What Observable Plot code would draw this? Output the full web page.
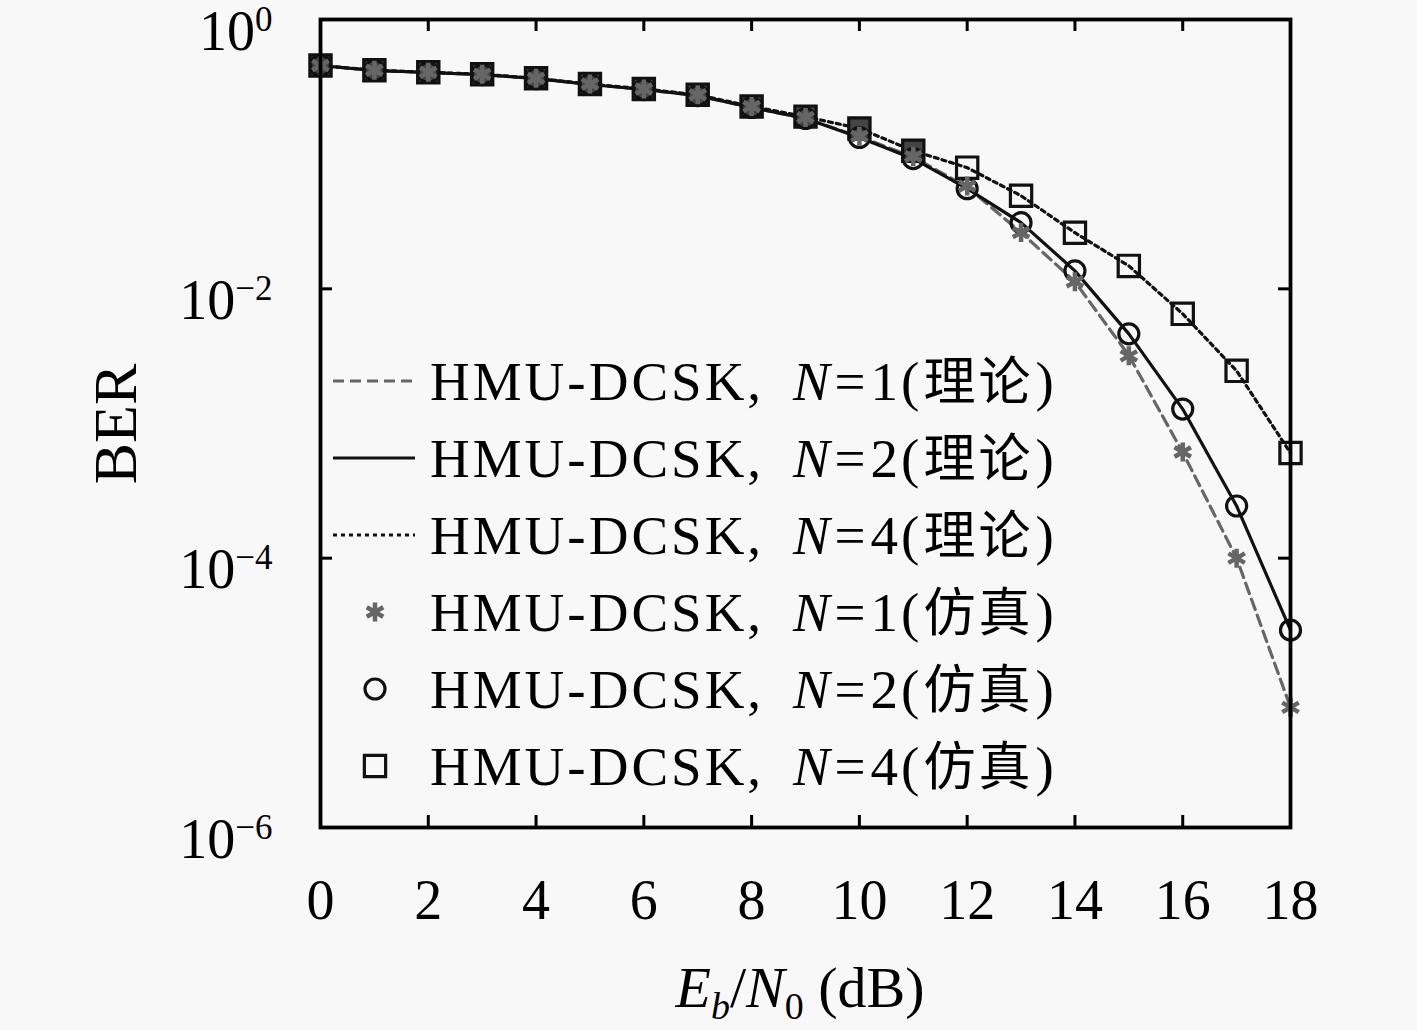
<!DOCTYPE html>
<html>
<head>
<meta charset="utf-8">
<script src="https://cdn.jsdelivr.net/npm/d3@7"></script>
<script src="https://cdn.jsdelivr.net/npm/@observablehq/plot@0.6"></script>
<style>
  html, body { margin: 0; padding: 0; background: #f8f8f8; }
  #chart { width: 1417px; height: 1030px; }
</style>
</head>
<body>
<div id="chart"></div>
<script>
// ---- data ----
const ebn0 = [0, 1, 2, 3, 4, 5, 6, 7, 8, 9, 10, 11, 12, 13, 14, 15, 16, 17, 18];
const berTheoryN1 = [0.455, 0.418, 0.404, 0.390, 0.364, 0.329, 0.302, 0.272, 0.222, 0.184, 0.135, 0.095, 0.057, 0.0262, 0.0113, 0.0032, 6.1e-4, 1.0e-4, 7.8e-6];
const berTheoryN2 = [0.455, 0.418, 0.404, 0.390, 0.364, 0.329, 0.302, 0.272, 0.222, 0.184, 0.133, 0.0926, 0.0554, 0.031, 0.0136, 0.00463, 0.00128, 2.44e-4, 2.92e-5];
const berTheoryN4 = [0.455, 0.420, 0.406, 0.392, 0.366, 0.332, 0.305, 0.276, 0.226, 0.190, 0.155, 0.106, 0.0794, 0.0491, 0.0261, 0.0148, 0.00652, 0.00246, 6.04e-4];
const berSimN1 = [0.455, 0.420, 0.406, 0.392, 0.366, 0.332, 0.305, 0.276, 0.226, 0.187, 0.136, 0.096, 0.058, 0.0262, 0.0113, 0.00318, 6.14e-4, 1.0e-4, 7.8e-6];
const berSimN2 = [0.455, 0.418, 0.404, 0.390, 0.364, 0.329, 0.302, 0.272, 0.222, 0.184, 0.133, 0.0926, 0.0554, 0.031, 0.0136, 0.00463, 0.00128, 2.44e-4, 2.92e-5];
const berSimN4 = [0.455, 0.420, 0.406, 0.392, 0.366, 0.332, 0.305, 0.276, 0.226, 0.190, 0.155, 0.106, 0.0794, 0.0491, 0.0261, 0.0148, 0.00652, 0.00246, 6.04e-4];

const xTicks = [0, 2, 4, 6, 8, 10, 12, 14, 16, 18];
const yTicks = [1, 1e-2, 1e-4, 1e-6];
const yTickExp = ["0", "\u22122", "\u22124", "\u22126"];
const legendName = "HMU-DCSK, ";
const legendN = ["1", "2", "4", "1", "2", "4"];
const legendKind = ["理论", "理论", "理论", "仿真", "仿真", "仿真"];
const xLabel = ["E", "b", "/", "N", "0", " (dB)"];
const yLabel = "BER";

// ---- tables ----
const rows = (ys) => ebn0.map((x, i) => ({x, y: ys[i]}));
const tN1 = rows(berTheoryN1), tN2 = rows(berTheoryN2), tN4 = rows(berTheoryN4);
const sN1 = rows(berSimN1), sN2 = rows(berSimN2), sN4 = rows(berSimN4);
const yTickRows = yTicks.map((v, i) => ({v, e: yTickExp[i]}));

// ---- layout ----
const W = 1417, H = 1030, mL = 320, mR = 127, mT = 19, mB = 203;
const fW = W - mL - mR, fH = H - mT - mB, tick = 12;
const serif = "'Liberation Serif', 'Noto Sans CJK SC', serif";

const gray = "#666";
const plot = Plot.plot({
  width: W, height: H,
  marginLeft: mL, marginRight: mR, marginTop: mT, marginBottom: mB,
  style: {background: "#f8f8f8", fontFamily: serif, color: "black", overflow: "visible"},
  x: {domain: [0, 18], axis: null},
  y: {type: "log", domain: [1e-6, 1], axis: null},
  marks: [
    // theory lines
    Plot.line(tN1, {x: "x", y: "y", stroke: gray, strokeWidth: 3.2, strokeDasharray: "11,6"}),
    Plot.line(tN2, {x: "x", y: "y", stroke: "#111", strokeWidth: 3.2}),
    Plot.line(tN4, {x: "x", y: "y", stroke: "#111", strokeWidth: 3.2, strokeDasharray: "4,4"}),
    // simulation markers
    Plot.dot(sN4, {x: "x", y: "y", symbol: "square", r: 12, stroke: "#111", strokeWidth: 3.2,
                   fill: d => d.x <= 11 ? "#444" : "none"}),
    Plot.dot(sN2, {x: "x", y: "y", symbol: "circle", r: 10, stroke: "#111", strokeWidth: 3.2, fill: "none"}),
    Plot.dot(sN1, {x: "x", y: "y", symbol: "asterisk", r: 9, stroke: gray, strokeWidth: 4.5}),
    // frame + inward ticks
    Plot.frame({stroke: "black", strokeWidth: 3.8}),
    Plot.tickX(xTicks, {x: d => d, insetTop: fH - tick, stroke: "black", strokeWidth: 3}),
    Plot.tickX(xTicks, {x: d => d, insetBottom: fH - tick, stroke: "black", strokeWidth: 3}),
    Plot.tickY(yTicks, {y: d => d, insetRight: fW - tick, stroke: "black", strokeWidth: 3}),
    Plot.tickY(yTicks, {y: d => d, insetLeft: fW - tick, stroke: "black", strokeWidth: 3}),
    // tick labels
    Plot.text(xTicks, {x: d => d, text: d => String(d), frameAnchor: "bottom", lineAnchor: "bottom",
                       dy: 91, fontSize: 56, fill: "black"}),
    Plot.text(yTickRows, {y: "v", text: d => "10|" + d.e, frameAnchor: "left", textAnchor: "end",
                          lineAnchor: "bottom", dx: -48, dy: 30, fontSize: 56, fill: "black"})
  ]
});

const svg = d3.select(plot);
// superscript exponents on y tick labels
svg.selectAll("text").filter(function() { return this.textContent.includes("|"); }).each(function() {
  const t = d3.select(this);
  const [base, exp] = t.text().split("|");
  t.text(null);
  t.append("tspan").text(base);
  t.append("tspan").attr("dy", -19).attr("font-size", 35).text(exp);
});

// axis titles
const xl = svg.append("text").attr("x", mL + fW / 2 - 5).attr("y", 1007)
  .attr("text-anchor", "middle").attr("font-size", 58).attr("font-family", serif).attr("fill", "black");
xl.append("tspan").attr("font-style", "italic").text(xLabel[0]);
xl.append("tspan").attr("font-style", "italic").attr("font-size", 38).attr("dy", 12).text(xLabel[1]);
xl.append("tspan").attr("dy", -12).text(xLabel[2]);
xl.append("tspan").attr("font-style", "italic").text(xLabel[3]);
xl.append("tspan").attr("font-size", 38).attr("dy", 12).text(xLabel[4]);
xl.append("tspan").attr("dy", -12).text(xLabel[5]);

svg.append("text").attr("transform", "translate(136,424) rotate(-90)")
  .attr("text-anchor", "middle").attr("font-size", 62).attr("font-family", serif).attr("fill", "black")
  .text(yLabel);

// legend (inside the plot, no box)
const lgX0 = 333, lgX1 = 415, lgMark = 375, lgText = 430, lgY0 = 381, lgDy = 77;
const lg = svg.append("g");
const lineStyles = [
  {stroke: gray, dash: "11,6"},
  {stroke: "#111", dash: null},
  {stroke: "#111", dash: "4,4"}
];
const markStyles = [
  {sym: d3.symbolAsterisk, r: 9, stroke: gray, sw: 4.5},
  {sym: d3.symbolCircle, r: 10, stroke: "#111", sw: 3.2},
  {sym: d3.symbolSquare, r: 12, stroke: "#111", sw: 3.2}
];
legendN.forEach((n, i) => {
  const cy = lgY0 + i * lgDy;
  if (i < 3) {
    const s = lineStyles[i];
    lg.append("line").attr("x1", lgX0).attr("x2", lgX1).attr("y1", cy).attr("y2", cy)
      .attr("stroke", s.stroke).attr("stroke-width", 3.2).attr("stroke-dasharray", s.dash);
  } else {
    const s = markStyles[i - 3];
    lg.append("path").attr("transform", `translate(${lgMark},${cy})`)
      .attr("d", d3.symbol(s.sym, s.r * s.r * Math.PI)())
      .attr("fill", "none").attr("stroke", s.stroke).attr("stroke-width", s.sw);
  }
  const t = lg.append("text").attr("x", lgText).attr("y", cy + 19).attr("text-anchor", "start")
    .attr("font-size", 55).attr("font-family", serif).attr("fill", "black");
  t.append("tspan").attr("letter-spacing", 3).text(legendName);
  t.append("tspan").attr("font-style", "italic").attr("dx", 12).text("N");
  t.append("tspan").attr("dx", 5).text("=");
  t.append("tspan").attr("dx", 5).text(n);
  t.append("tspan").attr("dx", 3).text("(");
  t.append("tspan").attr("font-family", "'Noto Sans CJK SC'").attr("font-size", 52)
    .attr("letter-spacing", 3).attr("dx", 4).text(legendKind[i]);
  t.append("tspan").attr("dx", 2).text(")");
});

document.getElementById("chart").appendChild(plot);
</script>
</body>
</html>
